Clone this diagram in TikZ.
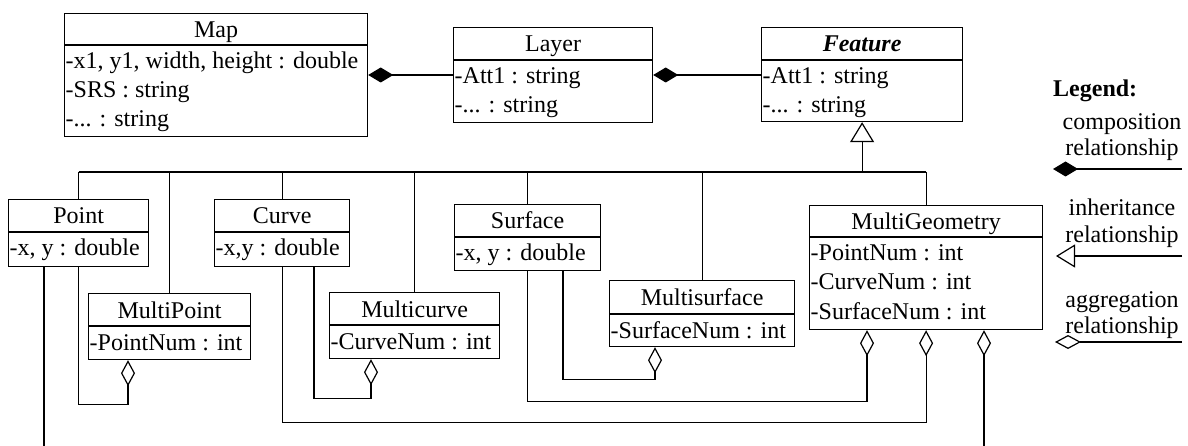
\documentclass[tikz,border=0pt]{standalone}
\usepackage{fontspec}
\setmainfont{Liberation Serif}
\usetikzlibrary{arrows.meta}
\newcommand{\tdots}{...}
\newcommand{\umlclass}[8]{%
  \node[clsbox, minimum width=#4pt, minimum height=#5pt, anchor=north west] (#1) at (#2,#3) {};
  \draw[ln] ([yshift=-#6pt]#1.north west) -- ([yshift=-#6pt]#1.north east);
  \node[clstxt, anchor=base] (#1-t) at ([yshift={-(#6*0.5+8.5)*1pt}]#1.north) {#7};
  \foreach \a [count=\i] in {#8}
    \node[clstxt, anchor=base west] (#1-a\i) at ([xshift=1.5pt, yshift={-(#6+24+(\i-1)*29)*1pt}]#1.north west) {\a};
}
\tikzset{
  ln/.style={line width=1.2pt, draw=black},
  clsbox/.style={draw=black, line width=1.2pt, inner sep=0pt},
  clstxt/.style={inner sep=0pt, font=\fontsize{24pt}{28pt}\selectfont},
  comp/.style={ln, -{Diamond[length=25pt,width=15pt,fill=black]}},
  agg/.style={ln, -{Diamond[open,length=26pt,width=14pt]}},
  inh/.style={ln, -{Triangle[open,length=20pt,width=24pt]}},
}
\begin{document}
\begin{tikzpicture}[x=1pt,y=-1pt]
\useasboundingbox[fill=white] (0,0) rectangle (1188,446);
% classes
\umlclass{map}{64}{13}{303}{123}{32}{Map}{{-x1, y1, width, height : double},{-SRS : string},{-\tdots{} : string}}
\umlclass{layer}{453}{27}{199}{95}{33}{Layer}{{-Att1 : string},{-\tdots{} : string}}
\umlclass{feature}{761}{27}{201}{94}{33}{\textbf{\textit{Feature}}}{{-Att1 : string},{-\tdots{} : string}}
\umlclass{point}{8}{199}{140}{67}{33}{Point}{{-x, y : double}}
\umlclass{mpoint}{88}{293}{162}{66}{33}{MultiPoint}{{-PointNum : int}}
\umlclass{curve}{214}{199}{135}{67}{33}{Curve}{{-x,y : double}}
\umlclass{mcurve}{329}{292}{170}{66}{33}{Multicurve}{{-CurveNum : int}}
\umlclass{surface}{454}{204}{146}{66}{33}{Surface}{{-x, y : double}}
\umlclass{msurface}{609}{280}{185}{66}{34}{Multisurface}{{-SurfaceNum : int}}
\umlclass{mgeo}{809}{205}{233}{124}{32}{MultiGeometry}{{-PointNum : int},{-CurveNum : int},{-SurfaceNum : int}}
% composition
\coordinate (lm) at ([yshift=-48pt]layer.north west);
\draw[comp] (lm) -- (lm -| map.east);
\coordinate (fl) at ([yshift=-48pt]feature.north west);
\draw[comp] (fl) -- (fl -| layer.east);
% inheritance
\coordinate (bus) at (0,172);
\draw[inh] (bus -| feature.south) -- (feature.south);
\draw[ln] (bus -| point.north) -- (bus -| mgeo.north);
\foreach \n in {point,mpoint,curve,mcurve,surface,msurface,mgeo}
  \draw[ln] (bus -| \n.north) -- (\n.north);
% aggregation
\coordinate (bottom) at (0,447);
\coordinate (mpA) at ([xshift=40pt]mpoint.south west);
\draw[agg] (point.south) -- ++(0,137) -| (mpA);
\coordinate (pB) at ([xshift=36pt]point.south west);
\draw[ln] (pB) -- (pB |- bottom);
\coordinate (cA) at ([xshift=100pt]curve.south west);
\coordinate (mcA) at ([xshift=42pt]mcurve.south west);
\draw[agg] (cA) -- ++(0,131) -| (mcA);
\draw[agg] (curve.south) -- ++(0,155) -| (mgeo.south);
\coordinate (sA) at ([xshift=109pt]surface.south west);
\coordinate (msA) at ([xshift=46pt]msurface.south west);
\draw[agg] (sA) -- ++(0,108) -| (msA);
\coordinate (mgA) at ([xshift=58pt]mgeo.south west);
\draw[agg] (surface.south) -- ++(0,130) -| (mgA);
\coordinate (mgC) at ([xshift=175pt]mgeo.south west);
\draw[agg] (bottom -| mgC) -- (mgC);
% legend
\node[clstxt, anchor=base west] (leg) at (1053,97) {\textbf{Legend:}};
\node[clstxt, anchor=base] (lc1) at (1122,130) {composition};
\node[clstxt, anchor=base] (lc2) at (1122,156) {relationship};
\coordinate (lcR) at (1182,169);
\coordinate (lcL) at (1053,169);
\draw[comp] (lcR) -- (lcL);
\node[clstxt, anchor=base] (li1) at (1122,216) {inheritance};
\node[clstxt, anchor=base] (li2) at (1122,243) {relationship};
\coordinate (liR) at (1182,256);
\coordinate (liL) at (1056,256);
\draw[ln, -{Triangle[open,length=19pt,width=23pt]}] (liR) -- (liL);
\node[clstxt, anchor=base] (la1) at (1122,307) {aggregation};
\node[clstxt, anchor=base] (la2) at (1122,333) {relationship};
\coordinate (laR) at (1182,342);
\coordinate (laL) at (1055,342);
\draw[agg] (laR) -- (laL);
\end{tikzpicture}
\end{document}
